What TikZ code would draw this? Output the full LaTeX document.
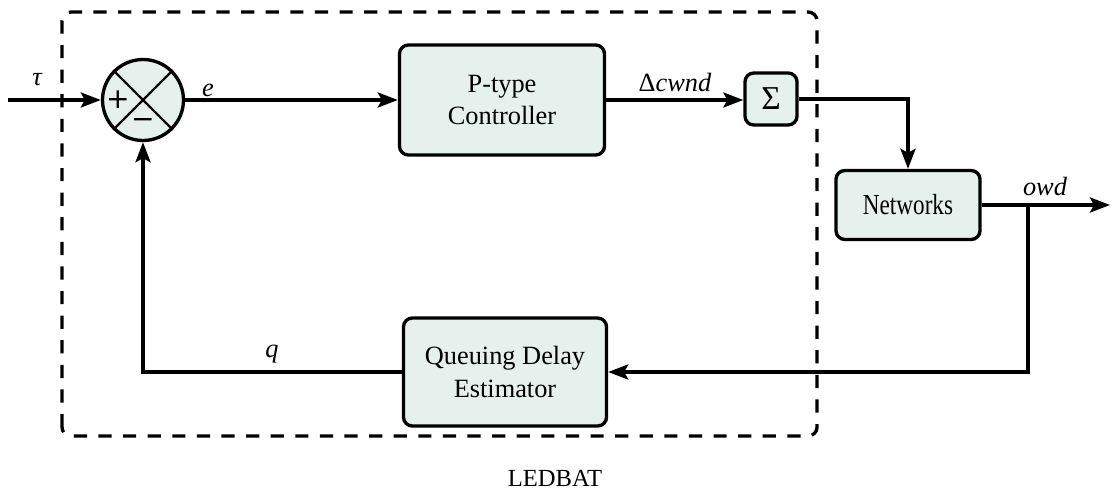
\documentclass[tikz,border=0pt]{standalone}
\usepackage{fontspec}
\setmainfont{Liberation Serif}
\newfontfamily\signfont{DejaVu Sans}
\usetikzlibrary{arrows.meta,positioning,calc}
\definecolor{blockfill}{RGB}{230,240,236}

\begin{document}
\begin{tikzpicture}[line width=1.9pt,
  block/.style={draw,fill=blockfill,rounded corners=5pt,align=center,font=\fontsize{15}{18.7}\selectfont},
  sig/.style={-{Stealth[length=4mm,width=3mm,inset=0.8mm]}},
  sign/.style={font=\signfont\fontsize{16}{16}\selectfont,inner sep=0pt},
  lbl/.style={font=\fontsize{15}{18}\selectfont\itshape,inner sep=0pt}]
\useasboundingbox (0,0) rectangle (22.26,9.86);
% LEDBAT frame
\draw[dash pattern=on 7.5pt off 6.5pt,rounded corners=5pt] (1.24,1.14) rectangle (16.34,9.62);
\node[font=\fontsize{14}{17}\selectfont] (ledbat) at (11.1,0.30) {LEDBAT};
% blocks
\node[draw,circle,fill=blockfill,minimum size=1.62cm,inner sep=0pt] (sum) at (2.86,7.86) {};
\draw[line width=1.4pt] (sum.45) -- (sum.225) (sum.135) -- (sum.315);
\node[sign] (plus) at ($(sum.center)+(-0.5,0)$) {+};
\node[sign] (minus) at ($(sum.center)+(0,-0.48)$) {−};
\node[block,minimum width=4.1cm,minimum height=2.2cm] (ctrl) at (10.04,7.86) {P-type\\Controller};
\node[block,minimum width=1.04cm,minimum height=1.04cm,inner sep=0pt,font=\fontsize{19}{19}\selectfont] (sigma) at (15.42,7.88) {Σ};
\node[block,minimum width=2.88cm,minimum height=1.38cm,font=\fontsize{16.5}{18}\selectfont] (net) at (18.16,5.76) {\scalebox{0.8}[1]{Networks}};
\node[block,minimum width=4.06cm,minimum height=2.16cm] (est) at (10.10,2.42) {Queuing Delay\\Estimator};
% signals
\coordinate (in) at (0.16,7.86);
\coordinate (out) at (22.2,5.76);
\coordinate (branch) at (20.56,5.76);
\draw[sig] (in) -- (sum.west);
\draw[sig] (sum.east) -- (ctrl.west);
\draw[sig] (ctrl.east) -- (ctrl.east -| sigma.west);
\draw[sig] (sigma.east) -| (net.north);
\draw[sig] (net.east) -- (out);
\draw[sig] (branch) |- (est.east);
\draw[sig] (est.west) -| (sum.south);
% labels
\node[lbl] (tau) at (0.74,8.26) {τ};
\node[lbl] (e) at (4.16,8.06) {e};
\node[lbl] (dcwnd) at (13.5,8.22) {\upshape Δ\itshape cwnd};
\node[lbl] (owd) at (20.9,6.14) {owd};
\node[lbl] (q) at (5.44,2.78) {q};
\end{tikzpicture}
\end{document}
